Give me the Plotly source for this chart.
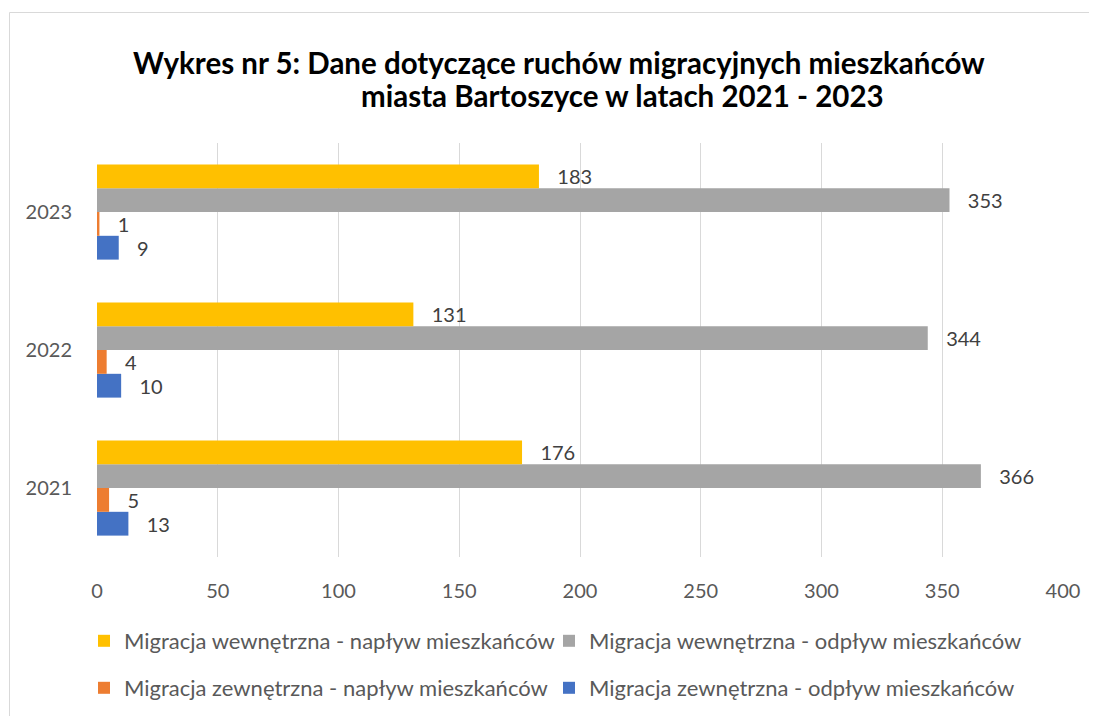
import plotly.graph_objects as go

years = ["2021", "2022", "2023"]
wewn_naplyw = [176, 131, 183]
wewn_odplyw = [366, 344, 353]
zewn_naplyw = [5, 4, 1]
zewn_odplyw = [13, 10, 9]

names = [
    "Migracja wewnętrzna - napływ mieszkańców",
    "Migracja wewnętrzna - odpływ mieszkańców",
    "Migracja zewnętrzna - napływ mieszkańców",
    "Migracja zewnętrzna - odpływ mieszkańców",
]
colors = ["#FFC000", "#A5A5A5", "#ED7D31", "#4472C4"]
series = [wewn_naplyw, wewn_odplyw, zewn_naplyw, zewn_odplyw]
legends = ["legend", "legend2", "legend3", "legend4"]

FONT = "Lato"
OFF = 8  # page body margin
W, H = 1097 - OFF, 716 - OFF
ML, MR, MT, MB = 97 - OFF, 34, 143 - OFF, 159
PW = W - ML - MR
PH = H - MT - MB

def px_x(px):  # screen px -> paper
    return (px - OFF - ML) / PW

def px_y(py):
    return (H - MB - (py - OFF)) / PH

def cx(px):  # screen px -> container fraction
    return (px - OFF) / W

def cy(py):
    return 1 - (py - OFF) / H

fig = go.Figure()
# plotly draws first trace at bottom of the group -> add in reverse
for i in [3, 2, 1, 0]:
    fig.add_trace(go.Bar(
        y=years, x=series[i], name=names[i], orientation="h",
        marker=dict(color=colors[i], line=dict(width=0)),
        text=series[i], texttemplate="   %{x}", textposition="outside",
        textfont=dict(family=FONT, size=20, color="#404040"),
        constraintext="none", cliponaxis=False,
        legend=legends[i],
    ))

leg_common = dict(orientation="h", xanchor="left", yanchor="top",
                  xref="container", yref="container", bgcolor="rgba(0,0,0,0)",
                  font=dict(family=FONT, size=22, color="#595959"), itemwidth=30)

col_x = [84, 549, 84, 549]
row_y = [620, 620, 667, 667]

fig.update_layout(
    width=W, height=H,
    margin=dict(l=ML, r=MR, t=MT, b=MB, autoexpand=False),
    paper_bgcolor="white", plot_bgcolor="white",
    barmode="group", bargap=0.31, bargroupgap=0,
    font=dict(family=FONT, color="#595959", size=20),
    xaxis=dict(range=[0, 400], dtick=50, showgrid=True, gridcolor="#D9D9D9",
               gridwidth=1, zeroline=False, showline=False, ticks="",
               tickfont=dict(size=20, color="#595959"), ticklabelstandoff=20),
    yaxis=dict(showgrid=False, zeroline=False, showline=False, ticks="",
               tickfont=dict(size=20, color="#595959"), ticklabelstandoff=24,
               categoryorder="array", categoryarray=years),
    showlegend=True,
)
for k, lg in enumerate(legends):
    fig.update_layout({lg: dict(x=cx(col_x[k]), y=cy(row_y[k]), **leg_common)})

fig.add_annotation(text="<b>Wykres nr 5: Dane dotyczące ruchów migracyjnych mieszkańców</b>",
                   xref="paper", yref="paper", x=px_x(559), y=px_y(62),
                   xanchor="center", yanchor="middle", showarrow=False,
                   font=dict(family=FONT, size=29.5, color="black"))
fig.add_annotation(text="<b>miasta Bartoszyce w latach 2021 - 2023</b>",
                   xref="paper", yref="paper", x=px_x(622), y=px_y(96),
                   xanchor="center", yanchor="middle", showarrow=False,
                   font=dict(family=FONT, size=29.5, color="black"))

fig.add_shape(type="rect", xref="paper", yref="paper",
              x0=px_x(9.5), x1=px_x(1120), y0=px_y(740), y1=px_y(12.5),
              line=dict(color="#D9D9D9", width=1), fillcolor="rgba(0,0,0,0)", layer="below")

fig.write_html("out.html")
